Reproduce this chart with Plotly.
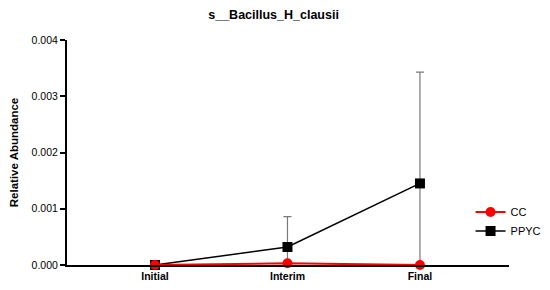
import plotly.graph_objects as go

# Données
timepoints = ["Initial", "Interim", "Final"]
cc_mean = [0.0, 0.00003, 0.0]
cc_sd = [0.0, 0.00001, 0.0]
ppyc_mean = [0.0, 0.00032, 0.00145]
ppyc_sd = [0.0, 0.00054, 0.00198]


def clipped_minus(mean, sd):
    # GraphPad coupe la barre d'erreur basse à zéro
    return [min(m, s) for m, s in zip(mean, sd)]


fig = go.Figure()

fig.add_trace(go.Scatter(
    x=timepoints, y=ppyc_mean, name="PPYC", mode="lines+markers",
    line=dict(color="black", width=1.5),
    marker=dict(symbol="square", size=10, color="black"),
    error_y=dict(type="data", array=ppyc_sd, arrayminus=clipped_minus(ppyc_mean, ppyc_sd),
                 color="#7a7a7a", thickness=1.2, width=4),
    cliponaxis=False,
))

fig.add_trace(go.Scatter(
    x=timepoints, y=cc_mean, name="CC", mode="lines+markers",
    line=dict(color="#ff0000", width=2),
    marker=dict(symbol="circle", size=10, color="#ff0000"),
    error_y=dict(type="data", array=cc_sd, arrayminus=clipped_minus(cc_mean, cc_sd),
                 color="#ff0000", thickness=1, width=3),
    cliponaxis=False,
))

# la page a une marge de 8 px : figure un peu plus petite que la fenêtre,
# et autoexpand coupé pour que la légende ne pousse pas la marge droite
fig.update_layout(
    width=542, height=282,
    paper_bgcolor="white", plot_bgcolor="white",
    margin=dict(l=59, r=41, t=32, b=25, autoexpand=False),
    font=dict(family="Arial, Liberation Sans, sans-serif", color="black"),
    title=dict(text="<b>s__Bacillus_H_clausii</b>", x=0.49, xanchor="center",
               y=0.975, yanchor="middle", font=dict(size=12.5)),
    showlegend=True,
    legend=dict(x=0.913, y=0.30, xanchor="left", yanchor="top",
                traceorder="reversed", font=dict(size=11),
                bgcolor="rgba(0,0,0,0)", itemwidth=30, tracegroupgap=0),
)

fig.update_xaxes(
    type="category", range=[-0.664, 2.672],
    showline=True, linecolor="black", linewidth=2,
    ticks="", showgrid=False, zeroline=False,
    tickfont=dict(size=10.5), ticklabelstandoff=0,
    tickprefix="<b>", ticksuffix="</b>",
    automargin=False,
)

fig.update_yaxes(
    range=[0, 0.004], tickvals=[0, 0.001, 0.002, 0.003, 0.004],
    tickformat=".3f", tickprefix="<b>", ticksuffix="</b>",
    showline=True, linecolor="black", linewidth=2,
    ticks="outside", ticklen=5, tickwidth=1.5, tickcolor="black",
    showgrid=False, zeroline=False,
    tickfont=dict(size=10.5),
    title=dict(text="<b>Relative Abundance</b>", font=dict(size=11.5), standoff=16),
    automargin=False,
)

fig.write_html("out.html")
